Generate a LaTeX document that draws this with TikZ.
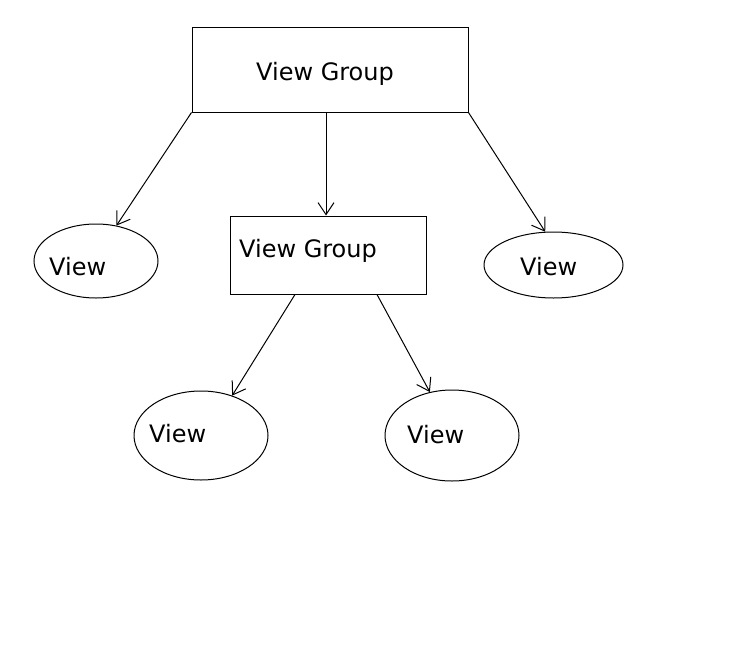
\documentclass[tikz,border=0pt]{standalone}
\usepackage{fontspec}
\setmainfont{DejaVu Sans}
\usetikzlibrary{shapes.geometric,arrows.meta}
\tikzset{
  box/.style={draw=black, line width=1pt, rectangle, inner sep=0pt},
  oval/.style={draw=black, line width=1pt, ellipse, inner sep=0pt},
  lbl/.style={anchor=base west, inner sep=0pt, font=\fontsize{24}{28}\selectfont},
  arr/.style={line width=1pt, -{Straight Barb[length=12pt,width=16pt,line width=1pt]}}
}
\begin{document}
\begin{tikzpicture}[x=1pt,y=-1pt]
\useasboundingbox (0,0) rectangle (733,645);
% shapes
\node[box, minimum width=276pt, minimum height=85pt] (vg1) at (330,69.5) {};
\node[box, minimum width=196pt, minimum height=78pt] (vg2) at (328,255) {};
\node[oval, minimum width=124pt, minimum height=74pt] (v1) at (96,261) {};
\node[oval, minimum width=139pt, minimum height=66pt] (v2) at (553.5,265) {};
\node[oval, minimum width=134pt, minimum height=89pt] (v3) at (201,435.5) {};
\node[oval, minimum width=134pt, minimum height=91pt] (v4) at (452,435.5) {};
% texts
\node[lbl] (t1) at (256,80) {View Group};
\node[lbl] (t2) at (239,257) {View Group};
\node[lbl] (t3) at (49,275) {View};
\node[lbl] (t4) at (520,275.5) {View};
\node[lbl] (t5) at (149,442) {View};
\node[lbl] (t6) at (407,443) {View};
% connectors
\draw[arr] (vg1.south west) -- (v1.60);
\draw[arr] ([xshift=-4pt]vg1.south) -- ([xshift=-2pt]vg2.north);
\draw[arr] (vg1.south east) -- (v2.104);
\draw[arr] ([xshift=-33pt]vg2.south) -- (v3.52);
\draw[arr] ([xshift=49pt]vg2.south) -- (v4.117);
\end{tikzpicture}
\end{document}
